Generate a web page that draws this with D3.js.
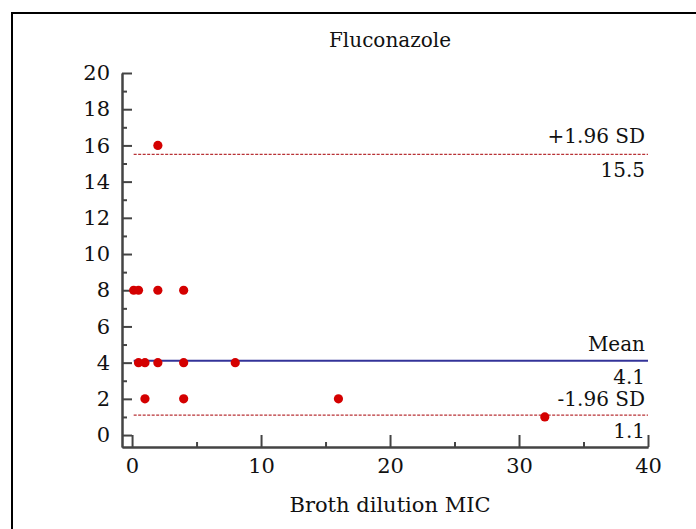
<!DOCTYPE html>
<html>
<head>
<meta charset="utf-8">
<script src="https://cdn.jsdelivr.net/npm/d3@7"></script>
<style>
  body { margin: 0; background: #fff; }
  text { font-family: "DejaVu Serif", serif; fill: #111; }
</style>
</head>
<body>
<svg class="chart"></svg>
<script>
// Bland-Altman style plot, fluconazole
var mic = [2, 0.125, 0.5, 2, 4, 0.5, 1, 2, 4, 8, 1, 4, 16, 32];
var diff = [16, 8, 8, 8, 8, 4, 4, 4, 4, 4, 2, 2, 2, 1];

var meanVal = 4.1;
var upperVal = 15.5;
var lowerVal = 1.1;

var xTicks = [0, 10, 20, 30, 40];
var xMinor = [5, 15, 25, 35];
var yTicks = [0, 2, 4, 6, 8, 10, 12, 14, 16, 18, 20];
var yMinor = [1, 3, 5, 7, 9, 11, 13, 15, 17, 19];

var width = 696;
var height = 529;

var chart = d3.select(".chart").attr("width", width).attr("height", height);

// frame (right and bottom edges fall outside the picture)
chart.append("rect")
  .attr("x", 12).attr("y", 13)
  .attr("width", 720).attr("height", 560)
  .attr("fill", "none")
  .attr("stroke", "#000")
  .attr("stroke-width", 2);

var x = d3.scaleLinear().domain([-0.78, 40]).range([122, 648]);
var y = d3.scaleLinear().domain([-0.66, 20]).range([447, 73]);

// minor ticks first
chart.append("g")
  .attr("transform", "translate(0,447)")
  .call(d3.axisBottom(x).tickValues(xMinor).tickSize(-5).tickSizeOuter(0).tickFormat(""));
chart.append("g")
  .attr("transform", "translate(122,0)")
  .call(d3.axisLeft(y).tickValues(yMinor).tickSize(-5).tickSizeOuter(0).tickFormat(""));

var xAxis = chart.append("g")
  .attr("transform", "translate(0,447)")
  .call(d3.axisBottom(x).tickValues(xTicks).tickSize(-12).tickSizeOuter(0).tickPadding(11));

var yAxis = chart.append("g")
  .attr("transform", "translate(122,0)")
  .call(d3.axisLeft(y).tickValues(yTicks).tickSize(-10).tickSizeOuter(0).tickPadding(12));

chart.selectAll(".domain, .tick line")
  .attr("stroke", "#444")
  .attr("stroke-width", 2);
chart.selectAll(".tick text")
  .attr("font-family", "DejaVu Serif")
  .attr("font-size", 21)
  .attr("fill", "#111");

// reference lines
var x0 = x(d3.min(mic));
var x1 = x(40);

chart.append("line")
  .attr("x1", x0).attr("x2", x1)
  .attr("y1", y(upperVal)).attr("y2", y(upperVal))
  .attr("stroke", "#b83236").attr("stroke-width", 1.3)
  .attr("stroke-dasharray", "3,1.5");

chart.append("line")
  .attr("x1", x0).attr("x2", x1)
  .attr("y1", y(lowerVal)).attr("y2", y(lowerVal))
  .attr("stroke", "#b83236").attr("stroke-width", 1.3)
  .attr("stroke-dasharray", "3,1.5");

chart.append("line")
  .attr("x1", x0).attr("x2", x1)
  .attr("y1", y(meanVal)).attr("y2", y(meanVal))
  .attr("stroke", "#333399").attr("stroke-width", 2);

// points
var i = 0;
while (i < mic.length) {
  chart.append("circle")
    .attr("cx", x(mic[i]))
    .attr("cy", y(diff[i]))
    .attr("r", 4.6)
    .attr("fill", "#d40000");
  i += 1;
}

// line labels
var labels = [
  ["+1.96 SD", upperVal, -11],
  [upperVal.toFixed(1), upperVal, 23],
  ["Mean", meanVal, -10],
  [meanVal.toFixed(1), meanVal, 23],
  ["-1.96 SD", lowerVal, -9],
  [lowerVal.toFixed(1), lowerVal, 23]
];
labels.forEach(function(d) {
  chart.append("text")
    .attr("x", 645)
    .attr("y", y(d[1]) + d[2])
    .attr("text-anchor", "end")
    .attr("font-size", 20)
    .text(d[0]);
});

chart.append("text")
  .attr("x", 390)
  .attr("y", 47)
  .attr("text-anchor", "middle")
  .attr("font-size", 20)
  .text("Fluconazole");

chart.append("text")
  .attr("x", 390)
  .attr("y", 512)
  .attr("text-anchor", "middle")
  .attr("font-size", 21)
  .text("Broth dilution MIC");
</script>
</body>
</html>
